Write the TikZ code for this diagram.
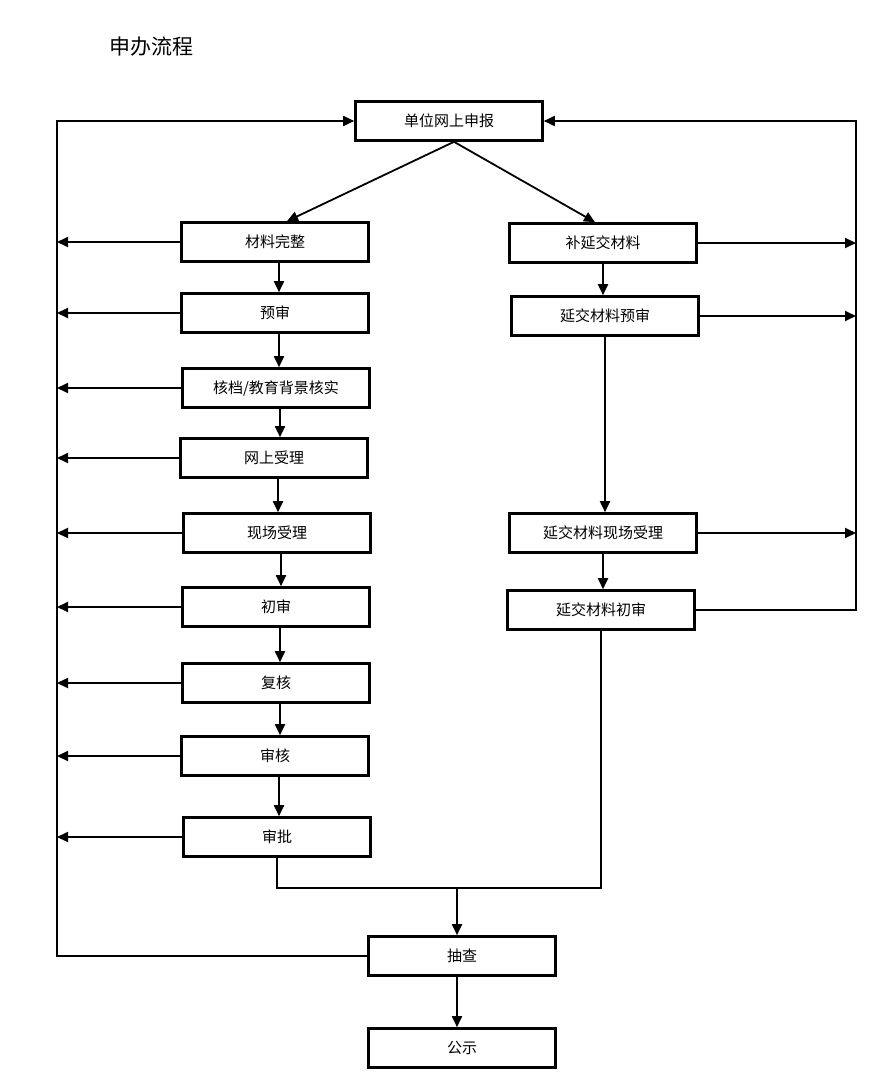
\documentclass[tikz,border=0pt]{standalone}
\usepackage{fontspec}
\newfontfamily\cjk{Noto Sans CJK SC}
\usetikzlibrary{arrows.meta}
\tikzset{
  box/.style={draw, line width=2.6pt, minimum width=187pt, minimum height=39pt,
    inner sep=0pt, font=\cjk\fontsize{15}{15}\selectfont},
  link/.style={line width=1.8pt},
}
\begin{document}
\begin{tikzpicture}[x=1pt, y=-1pt, >={Triangle[length=11pt,width=10pt]}]
  \useasboundingbox (0,0) rectangle (890,1092);
  \node[font=\cjk\fontsize{21}{21}\selectfont] (title) at (151,47) {申办流程};
  % top
  \node[box] (sb) at (449,121) {单位网上申报};
  % left column
  \node[box] (cl) at (275,242) {材料完整};
  \node[box] (ys) at (275,313) {预审};
  \node[box] (hd) at (276,388) {核档/教育背景核实};
  \node[box] (ws) at (274,458) {网上受理};
  \node[box] (xc) at (277,533) {现场受理};
  \node[box] (cs) at (276,607) {初审};
  \node[box] (fh) at (276,683) {复核};
  \node[box] (sh) at (275,756) {审核};
  \node[box] (sp) at (277,837) {审批};
  % right column
  \node[box] (bj) at (603,243) {补延交材料};
  \node[box] (yy) at (605,316) {延交材料预审};
  \node[box] (yx) at (603,533) {延交材料现场受理};
  \node[box] (yc) at (601,610) {延交材料初审};
  % bottom
  \node[box] (cc) at (462,956) {抽查};
  \node[box] (gs) at (462,1048) {公示};
  \coordinate (L) at (57,0);
  \coordinate (R) at (856,0);
  \coordinate (mg) at (457,888);

  \draw[->, link] ([xshift=5pt]sb.south) -- ([xshift=12pt]cl.north);
  \draw[->, link] ([xshift=5pt]sb.south) -- ([xshift=-8pt]bj.north);
  \foreach \a/\b in {cl/ys, ys/hd, hd/ws, ws/xc, xc/cs, cs/fh, fh/sh, sh/sp}
    \draw[->, link] ([xshift=4pt]\a.south) -- ([xshift=4pt]\a.south |- \b.north);
  \foreach \a/\b in {bj/yy, yy/yx, yx/yc}
    \draw[->, link] (\a.south) -- (\a.south |- \b.north);
  \foreach \n in {cl, ys, hd, ws, xc, cs, fh, sh, sp}
    \draw[->, link] (\n.west) -- (\n.west -| L);
  \foreach \n in {bj, yy, yx}
    \draw[->, link] (\n.east) -- (\n.east -| R);
  \draw[->, link] (cc.west) -| (sb.west -| L) -- (sb.west);
  \draw[->, link] (yc.east) -| (sb.east -| R) -- (sb.east);
  \draw[link] (sp.south) |- (mg) -| (yc.south);
  \draw[->, link] (mg) -- (mg |- cc.north);
  \draw[->, link] (mg |- cc.south) -- (mg |- gs.north);
\end{tikzpicture}
\end{document}
